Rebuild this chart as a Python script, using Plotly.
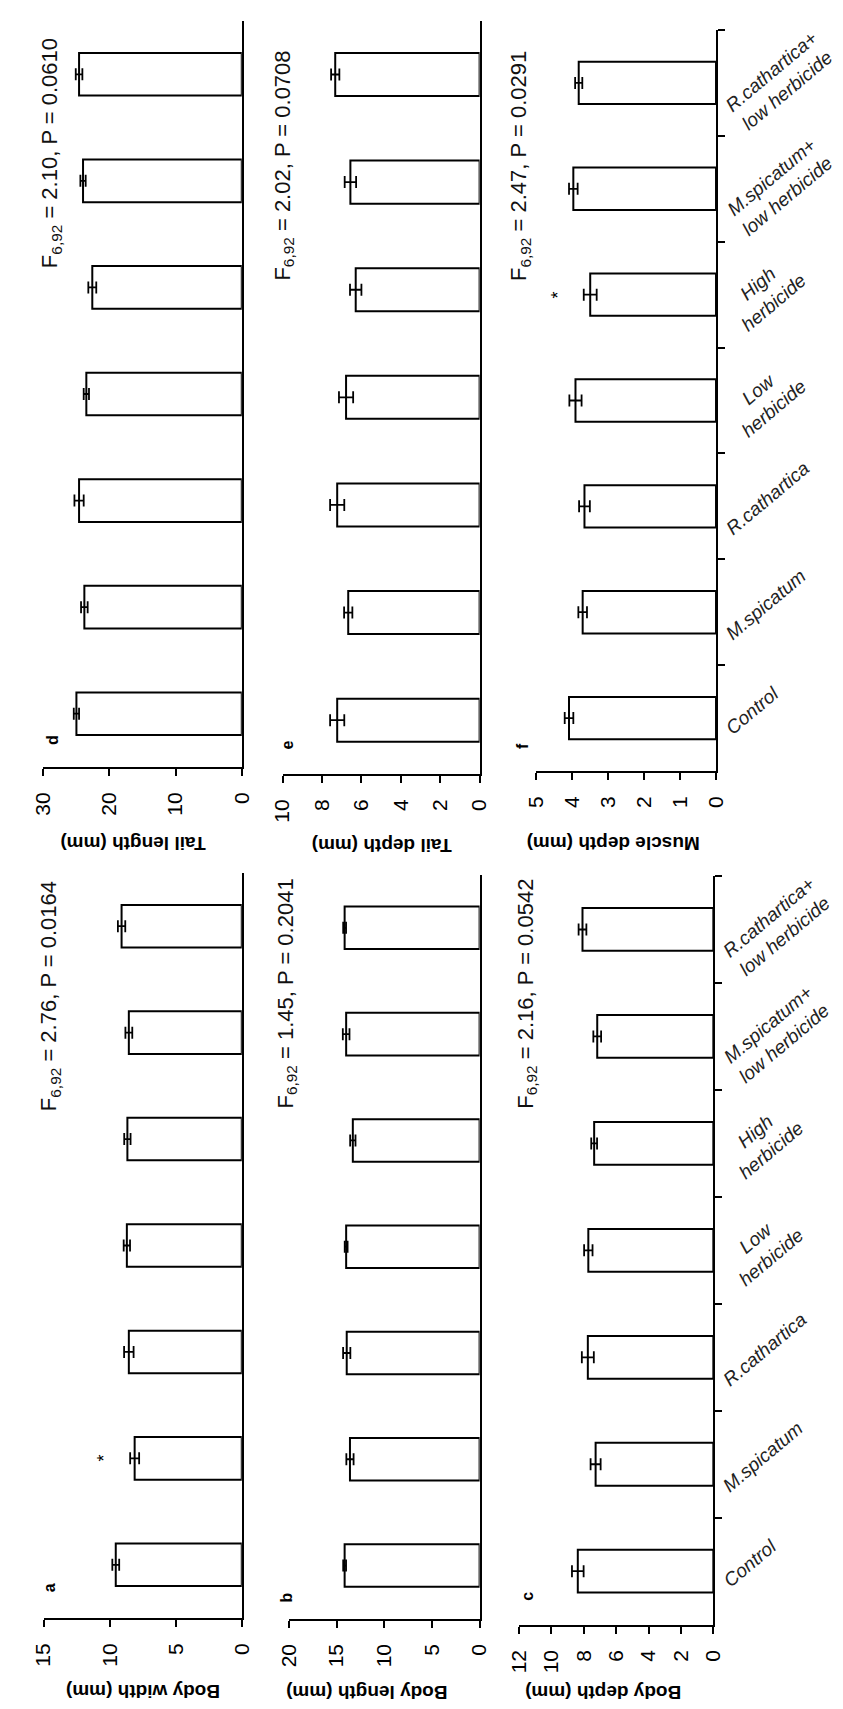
import plotly.graph_objects as go

W, H = 843, 1709

categories = ["Control", "M.spicatum", "R.cathartica", "Low herbicide",
              "High herbicide", "M.spicatum+ low herbicide", "R.cathartica+ low herbicide"]
cat_labels = ["Control", "M.spicatum", "R.cathartica", "Low<br>herbicide",
              "High<br>herbicide", "M.spicatum+<br>low herbicide", "R.cathartica+<br>low herbicide"]

body_width = [9.54, 8.11, 8.55, 8.70, 8.66, 8.55, 9.10]
body_width_se = [0.26, 0.34, 0.36, 0.24, 0.24, 0.26, 0.28]
body_length = [14.16, 13.60, 13.94, 14.00, 13.30, 14.00, 14.16]
body_length_se = [0.15, 0.38, 0.38, 0.15, 0.28, 0.35, 0.15]
body_depth = [8.37, 7.27, 7.75, 7.72, 7.36, 7.17, 8.08]
body_depth_se = [0.36, 0.31, 0.37, 0.26, 0.18, 0.24, 0.24]
tail_length = [25.0, 23.8, 24.6, 23.5, 22.6, 24.0, 24.6]
tail_length_se = [0.4, 0.5, 0.7, 0.4, 0.6, 0.4, 0.5]
tail_depth = [7.23, 6.67, 7.23, 6.78, 6.29, 6.56, 7.33]
tail_depth_se = [0.36, 0.21, 0.36, 0.36, 0.29, 0.29, 0.21]
muscle_depth = [4.09, 3.71, 3.66, 3.91, 3.50, 3.97, 3.82]
muscle_depth_se = [0.12, 0.12, 0.15, 0.17, 0.18, 0.12, 0.10]

axis_titles = ["Body width (mm)", "Body length (mm)", "Body depth (mm)",
               "Tail length (mm)", "Tail depth (mm)", "Muscle depth (mm)"]
panel_letters = ["a", "b", "c", "d", "e", "f"]
stats = ["F<sub>6,92</sub> = 2.76, P = 0.0164", "F<sub>6,92</sub> = 1.45, P = 0.2041",
         "F<sub>6,92</sub> = 2.16, P = 0.0542", "F<sub>6,92</sub> = 2.10, P = 0.0610",
         "F<sub>6,92</sub> = 2.02, P = 0.0708", "F<sub>6,92</sub> = 2.47, P = 0.0291"]
value_max = [15, 20, 12, 30, 10, 5]
tick_step = [5, 5, 2, 10, 2, 1]
significant = [["M.spicatum"], [], [], [], [], ["High herbicide"]]

series = [(body_width, body_width_se), (body_length, body_length_se), (body_depth, body_depth_se),
          (tail_length, tail_length_se), (tail_depth, tail_depth_se), (muscle_depth, muscle_depth_se)]

# layout: pixel boxes (left, right, top, bottom) for each panel
boxes = [(24.3, 228, 865, 1610), (276.5, 472.5, 866.7, 1610.7), (513, 712.8, 868, 1616.7),
         (24, 228, 13, 759), (270, 472.5, 12.7, 766), (530.8, 715.5, 22, 763)]
letter_pos = [(30, 1580), (273, 1590), (521, 1588), (33, 732), (275, 737), (516, 738)]
stat_pos = [(31, 988), (274, 986), (521, 986), (32, 145), (271, 158), (514, 158)]
title_pos = [(127, 1684), (356, 1685), (600, 1685), (116, 836), (372, 838), (610, 836)]

FONT = "Arial, Liberation Sans, sans-serif"

def px(x):
    return x / W

def py(y):
    return 1 - y / H

fig = go.Figure()
layout = dict(width=W, height=H, margin=dict(l=0, r=0, t=0, b=0),
              paper_bgcolor="white", plot_bgcolor="white", showlegend=False,
              font=dict(family=FONT, color="black"))
annotations = []

for i in range(6):
    n = "" if i == 0 else str(i + 1)
    vals, se = series[i]
    fig.add_trace(go.Bar(orientation="h", x=vals, y=categories, width=0.4,
                         marker=dict(color="white", line=dict(color="black", width=2)),
                         error_x=dict(type="data", array=se, color="black", thickness=1.8, width=6),
                         xaxis="x" + n, yaxis="y" + n, hoverinfo="x+y"))
    l, r, t, b = boxes[i]
    right_col = i in (2, 5)
    layout["xaxis" + n] = dict(domain=[px(l), px(r)], range=[value_max[i], 0], anchor="y" + n,
                               tickvals=list(range(0, value_max[i] + 1, tick_step[i])),
                               tickangle=-90, ticks="outside", ticklen=7, tickwidth=1.8,
                               tickcolor="black", showline=True, linecolor="black", linewidth=1.8,
                               showgrid=False, zeroline=False,
                               tickfont=dict(size=21, family=FONT, color="black"),
                               ticklabelstandoff=8)
    layout["yaxis" + n] = dict(domain=[py(b), py(t)], type="category", categoryorder="array",
                               categoryarray=categories, range=[-0.5, 6.5], anchor="x" + n,
                               side="right", showline=True, linecolor="black", linewidth=1.8,
                               showticklabels=False, showgrid=False, zeroline=False,
                               ticks="outside" if right_col else "", ticklen=7, tickwidth=1.8,
                               tickcolor="black", tickson="boundaries")
    # panel letter
    annotations.append(dict(text="<b>" + panel_letters[i] + "</b>", x=px(letter_pos[i][0]),
                            y=py(letter_pos[i][1]), xref="paper", yref="paper", showarrow=False,
                            xanchor="center", yanchor="middle",
                            textangle=-90, font=dict(size=16, family=FONT)))
    # statistics
    annotations.append(dict(text=stats[i], x=px(stat_pos[i][0]), y=py(stat_pos[i][1]),
                            xref="paper", yref="paper", showarrow=False, textangle=-90,
                            xanchor="center", yanchor="middle",
                            font=dict(size=22, family=FONT, color="#111")))
    # axis title
    annotations.append(dict(text="<b>" + axis_titles[i] + "</b>", x=px(title_pos[i][0]),
                            y=py(title_pos[i][1]), xref="paper", yref="paper", showarrow=False,
                            xanchor="center", yanchor="middle",
                            textangle=180, font=dict(size=19, family=FONT)))
    # significance
    for c in significant[i]:
        k = categories.index(c)
        annotations.append(dict(text="*", x=vals[k] + se[k], y=c, xref="x" + n, yref="y" + n,
                                xshift=-26, showarrow=False, textangle=-90,
                                xanchor="center", yanchor="middle",
                                font=dict(size=18, family=FONT)))
    # category labels
    if right_col:
        for k, lab in enumerate(cat_labels):
            two = "<br>" in lab
            annotations.append(dict(text="<i>" + lab + "</i>", x=px(r + 3), y=categories[k],
                                    xref="paper", yref="y" + n, xanchor="left", yanchor="middle",
                                    yshift=2 if two else 8, showarrow=False, textangle=-40,
                                    align="center", font=dict(size=19, family=FONT, color="#222")))

layout["annotations"] = annotations
fig.update_layout(**layout)
fig.write_html("out.html")
